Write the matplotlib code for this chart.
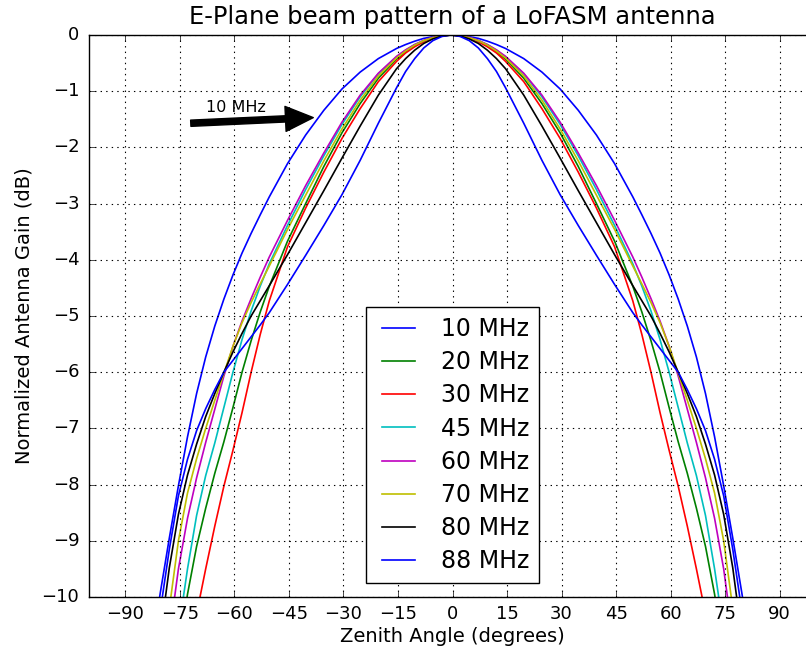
import numpy as np
import matplotlib
matplotlib.use("Agg")
import matplotlib.pyplot as plt

plt.style.use("classic")

# Angle from beam centre (degrees); the pattern is mirrored about the centre
angles = [0, 2.5, 5, 7.5, 10, 12.5, 15, 20, 25, 30, 35, 40, 45, 50, 52.5, 55,
          57.5, 60, 62.5, 65, 67.5, 70, 72.5, 75, 77.5, 80, 82.5, 85]

# Normalized gain (dB) at each angle, per frequency
gain_10 = [0, -0.007, -0.03, -0.06, -0.11, -0.17, -0.24, -0.42, -0.66, -0.96,
           -1.34, -1.78, -2.29, -2.88, -3.20, -3.53, -3.88, -4.27, -4.70, -5.18,
           -5.73, -6.38, -7.15, -8.02, -8.95, -9.93, -10.96, -12.0]
gain_20 = [0, -0.012, -0.05, -0.11, -0.19, -0.30, -0.43, -0.77, -1.22, -1.74,
           -2.34, -3.00, -3.67, -4.47, -4.93, -5.44, -6.00, -6.63, -7.24, -7.80,
           -8.42, -9.10, -9.95, -11.0, -12.2, -13.5, -14.8, -16.1]
gain_30 = [0, -0.013, -0.05, -0.12, -0.21, -0.32, -0.47, -0.83, -1.31, -1.84,
           -2.44, -3.08, -3.77, -4.73, -5.33, -6.00, -6.72, -7.39, -8.03, -8.74,
           -9.50, -10.3, -11.15, -12.0, -12.9, -13.8, -14.7, -15.6]
gain_45 = [0, -0.011, -0.04, -0.10, -0.17, -0.27, -0.39, -0.69, -1.10, -1.59,
           -2.15, -2.75, -3.39, -4.07, -4.47, -4.91, -5.42, -6.00, -6.63, -7.26,
           -7.84, -8.55, -9.50, -10.6, -11.8, -13.1, -14.5, -16.0]
gain_60 = [0, -0.011, -0.04, -0.095, -0.17, -0.265, -0.38, -0.68, -1.07, -1.55,
           -2.10, -2.68, -3.30, -3.95, -4.31, -4.69, -5.09, -5.54, -6.07, -6.66,
           -7.25, -7.88, -8.60, -9.50, -10.7, -12.0, -13.4, -14.8]
gain_70 = [0, -0.011, -0.05, -0.10, -0.18, -0.285, -0.41, -0.73, -1.16, -1.67,
           -2.24, -2.85, -3.46, -4.11, -4.43, -4.76, -5.12, -5.54, -6.02, -6.50,
           -7.00, -7.54, -8.15, -9.00, -10.2, -11.6, -13.0, -14.5]
gain_80 = [0, -0.017, -0.07, -0.15, -0.27, -0.42, -0.60, -1.07, -1.62, -2.19,
           -2.77, -3.34, -3.91, -4.46, -4.73, -5.00, -5.31, -5.64, -6.00, -6.38,
           -6.79, -7.28, -7.83, -8.53, -9.48, -10.7, -12.0, -13.4]
gain_88 = [0, -0.026, -0.10, -0.23, -0.42, -0.65, -0.94, -1.57, -2.23, -2.84,
           -3.39, -3.92, -4.44, -4.94, -5.16, -5.37, -5.58, -5.79, -6.00, -6.31,
           -6.65, -7.04, -7.55, -8.20, -9.15, -10.25, -11.5, -12.8]

beam_center = -0.4

labels = ["10 MHz", "20 MHz", "30 MHz", "45 MHz", "60 MHz", "70 MHz", "80 MHz", "88 MHz"]
series = [gain_10, gain_20, gain_30, gain_45, gain_60, gain_70, gain_80, gain_88]
colors = ["b", "g", "r", "c", "m", "y", "k", "b"]

xticks = list(range(-90, 91, 15))
yticks = list(range(-10, 1, 1))

fig = plt.figure(figsize=(8.06, 6.56), dpi=100, facecolor="white")
ax = fig.add_axes([89 / 806, 59 / 656, 727 / 806, 562 / 656])

a = np.array(angles, dtype=float)
for g, lab, col in zip(series, labels, colors):
    g = np.array(g, dtype=float)
    x = np.concatenate([-a[::-1], a[1:]]) + beam_center
    y = np.concatenate([g[::-1], g[1:]])
    ax.plot(x, y, color=col, lw=1.2, label=lab)

ax.set_xlim(-100, 100)
ax.set_ylim(-10, 0)
ax.set_xticks(xticks)
ax.set_yticks(yticks)
ax.grid(True, color="k", linestyle=":", linewidth=0.8)
ax.tick_params(axis="both", labelsize=13)
ax.tick_params(axis="y", pad=7)
ax.tick_params(axis="x", pad=6)

ax.set_title("E-Plane beam pattern of a LoFASM antenna", fontsize=17.5, pad=8)
ax.set_xlabel("Zenith Angle (degrees)", fontsize=14, labelpad=3)
ax.set_ylabel("Normalized Antenna Gain (dB)", fontsize=14, labelpad=6)

ax.annotate("", xy=(-38.3, -1.47), xytext=(-72, -1.57),
            arrowprops=dict(facecolor="black", edgecolor="black",
                            width=4.5, headwidth=18, headlength=20, shrink=0.0))
ax.text(-59.5, -1.29, "10 MHz", fontsize=11.5, ha="center", va="center")

leg = ax.legend(loc="lower center", fontsize=17, frameon=True,
                labelspacing=0.39, borderaxespad=0.6)

fig.savefig("out.png", dpi=100, facecolor="white")
